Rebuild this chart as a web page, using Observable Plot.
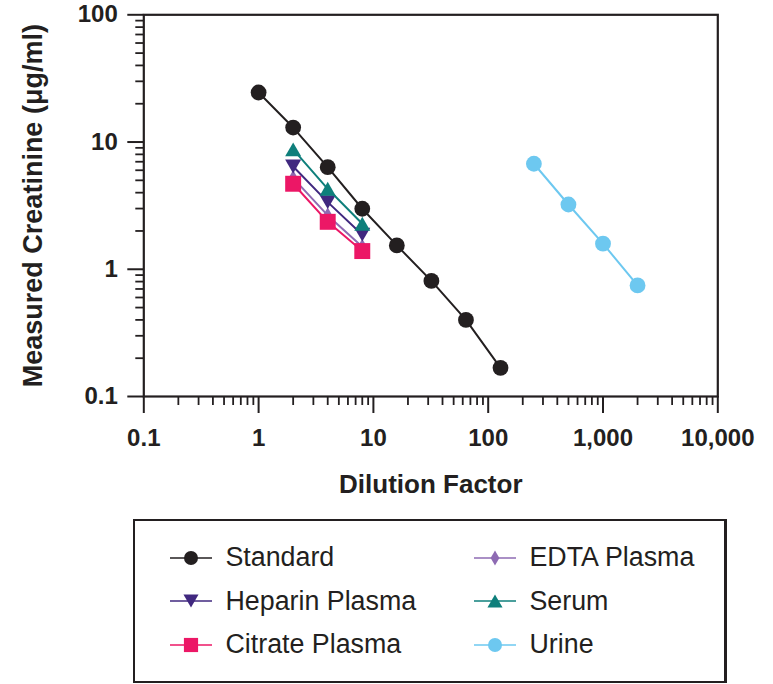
<!DOCTYPE html>
<html>
<head>
<meta charset="utf-8">
<script src="https://cdn.jsdelivr.net/npm/d3@7"></script>
<script src="https://cdn.jsdelivr.net/npm/@observablehq/plot@0.6"></script>
<style>
  html, body { margin: 0; padding: 0; background: #fff; }
  body { width: 773px; height: 684px; position: relative; overflow: hidden; font-family: "Liberation Sans", Arial, Helvetica, sans-serif; }
  #chart { position: absolute; left: 0; top: 0; }
  #legend { position: absolute; left: 133px; top: 519px; width: 594px; height: 164px; box-sizing: border-box; border: 2.5px solid #231f20; border-right-width: 3px; background: #fff; }
  .col { position: absolute; top: 15px; }
  .item { display: flex; align-items: center; height: 43.5px; font-size: 26.8px; color: #231f20; white-space: nowrap; }
  .item svg { flex: none; margin-right: 14px; }
</style>
</head>
<body>
<div id="chart"></div>
<div id="legend"></div>
<script>
// ---- data ----
const standardX = [1, 2, 4, 8, 16, 32, 64, 128];
const standardY = [24.5, 13, 6.35, 2.99, 1.54, 0.81, 0.40, 0.168];
const sampleX = [2, 4, 8];
const heparinY = [6.43, 3.37, 1.87];
const citrateY = [4.7, 2.36, 1.39];
const edtaY = [5.2, 2.65, 1.5];
const serumY = [8.75, 4.29, 2.28];
const urineX = [250, 500, 1000, 2000];
const urineY = [6.75, 3.23, 1.59, 0.746];

const seriesNames = ["Standard", "Heparin Plasma", "Citrate Plasma", "EDTA Plasma", "Serum", "Urine"];
const seriesColors = ["#231f20", "#40287f", "#ec1766", "#8e6bb3", "#0e7f7b", "#6dc8f0"];

const xMajorTicks = [0.1, 1, 10, 100, 1000, 10000];
const yMajorTicks = [0.1, 1, 10, 100];
const minorMultipliers = [2, 3, 4, 5, 6, 7, 8, 9];
const xTitle = "Dilution Factor";
const yTitle = "Measured Creatinine (μg/ml)";

// ---- helpers ----
const INK = "#231f20";
const FONT = '"Liberation Sans", Arial, Helvetica, sans-serif';
const minorOf = (majors) => majors.slice(0, -1).flatMap(d => minorMultipliers.map(k => +(k * d).toPrecision(3)));
const xMinorTicks = minorOf(xMajorTicks);
const yMinorTicks = minorOf(yMajorTicks);

const triUp = { draw(ctx, size) { const w = Math.sqrt(4 * size / Math.sqrt(3)), h = w * Math.sqrt(3) / 2;
  ctx.moveTo(0, -h / 2); ctx.lineTo(w / 2, h / 2); ctx.lineTo(-w / 2, h / 2); ctx.closePath(); } };
const triDown = { draw(ctx, size) { const w = Math.sqrt(4 * size / Math.sqrt(3)), h = w * Math.sqrt(3) / 2;
  ctx.moveTo(-w / 2, -h / 2); ctx.lineTo(w / 2, -h / 2); ctx.lineTo(0, h / 2); ctx.closePath(); } };

const seriesSymbols = [d3.symbolCircle, triDown, d3.symbolSquare, d3.symbolDiamond, triUp, d3.symbolCircle];
const seriesR = [7.9, 5.95, 9, 4.9, 5.95, 7.9];
const seriesXs = [standardX, sampleX, sampleX, sampleX, sampleX, urineX];
const seriesYs = [standardY, heparinY, citrateY, edtaY, serumY, urineY];

const rows = (i) => seriesXs[i].map((x, j) => ({ x, y: seriesYs[i][j], series: seriesNames[i] }));
const drawOrder = [5, 3, 2, 1, 4, 0];
const seriesMarks = drawOrder.flatMap(i => [
  Plot.line(rows(i), { x: "x", y: "y", stroke: seriesColors[i], strokeWidth: 2 }),
  Plot.dot(rows(i), { x: "x", y: "y", fill: seriesColors[i], stroke: "none", symbol: seriesSymbols[i], r: seriesR[i] })
]);

const chart = Plot.plot({
  width: 773,
  height: 510,
  marginLeft: 143.3,
  marginRight: 55.7,
  marginTop: 14.3,
  marginBottom: 114,
  x: { type: "log", domain: [0.1, 10000], label: null },
  y: { type: "log", domain: [0.1, 100], label: null },
  style: { fontFamily: FONT, color: INK, background: "#fff", overflow: "visible" },
  marks: [
    Plot.axisX({ ticks: xMinorTicks, tickSize: 9, tickFormat: () => "", strokeWidth: 1.8, label: null }),
    Plot.axisX({ ticks: xMajorTicks, tickSize: 17, tickPadding: 15, tickFormat: d3.format(","), fontSize: 24, fontWeight: "bold", strokeWidth: 2, label: null }),
    Plot.axisY({ ticks: yMinorTicks, tickSize: 8, tickFormat: () => "", strokeWidth: 1.8, label: null }),
    Plot.axisY({ ticks: yMajorTicks, tickSize: 16, tickPadding: 10, tickFormat: d3.format(","), fontSize: 24, fontWeight: "bold", strokeWidth: 2, label: null }),
    Plot.frame({ stroke: INK, strokeWidth: 2.2 }),
    ...seriesMarks,
    Plot.text([xTitle], { text: d => d, frameAnchor: "bottom", dy: 88, textAnchor: "middle", lineAnchor: "middle", fontSize: 26, fontWeight: "bold", fill: INK }),
    Plot.text([yTitle], { text: d => d, frameAnchor: "left", dx: -110, rotate: -90, textAnchor: "middle", lineAnchor: "middle", fontSize: 27, fontWeight: "bold", fill: INK })
  ]
});
document.getElementById("chart").appendChild(chart);

// ---- legend ----
const legendR = [7, 5.6, 8, 4.6, 5.6, 7];
const legend = document.getElementById("legend");
const columns = [[0, 1, 2], [3, 4, 5]];
const columnLeft = [34.5, 338.5];
columns.forEach((idxs, c) => {
  const col = document.createElement("div");
  col.className = "col";
  col.style.left = columnLeft[c] + "px";
  idxs.forEach(i => {
    const item = document.createElement("div");
    item.className = "item";
    const svg = d3.create("svg").attr("width", 42).attr("height", 24);
    svg.append("line").attr("x1", 0).attr("x2", 42).attr("y1", 12).attr("y2", 12)
      .attr("stroke", seriesColors[i]).attr("stroke-width", 1.6);
    svg.append("path").attr("transform", "translate(21,12)")
      .attr("d", d3.symbol(seriesSymbols[i], Math.PI * legendR[i] * legendR[i])())
      .attr("fill", seriesColors[i]);
    item.appendChild(svg.node());
    const label = document.createElement("span");
    label.textContent = seriesNames[i];
    item.appendChild(label);
    col.appendChild(item);
  });
  legend.appendChild(col);
});
</script>
</body>
</html>
